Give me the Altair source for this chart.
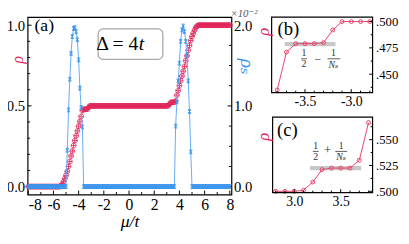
import altair as alt
import numpy as np
import pandas as pd

# ---------------- data ----------------
mu = np.round(np.arange(-8.0, 8.0001, 0.1), 1)          # mu/t grid, step 0.1

rho_low = [0.0] * 25                                      # -8.0 ... -5.6
rho_ramp_left = [0.0, 0.005, 0.015, 0.03, 0.05, 0.07, 0.095, 0.125, 0.155, 0.19,
                 0.22, 0.255, 0.285, 0.315, 0.345, 0.375, 0.405, 0.435, 0.471, 0.479,
                 0.479, 0.479, 0.480, 0.492, 0.500]       # -5.5 ... -3.1
rho_mid = [0.5] * 61                                      # -3.0 ... 3.0
rho_ramp_right = [0.501, 0.509, 0.521, 0.5225, 0.5225, 0.5225, 0.530, 0.5665, 0.595, 0.625,
                  0.655, 0.685, 0.715, 0.745, 0.780, 0.810, 0.845, 0.875, 0.905, 0.930,
                  0.950, 0.970, 0.985, 0.995, 1.0]        # 3.1 ... 5.5
rho_high = [1.0] * 25                                     # 5.6 ... 8.0

rhos_low = [0.0] * 31                                     # -8.0 ... -5.0
rhos_peak_left = [0.45, 0.95, 1.33, 1.65, 1.86, 1.96, 1.97, 1.92, 1.82, 1.57, 1.22, 0.98, 0.74]   # -4.9 ... -3.7
rhos_mid = [0.0] * 73                                     # -3.6 ... 3.6
rhos_peak_right = [0.75, 1.05, 1.31, 1.53, 1.80, 1.94, 1.99, 1.92, 1.80, 1.63, 1.31, 0.93, 0.43]  # 3.7 ... 4.9
rhos_high = [0.0] * 31                                    # 5.0 ... 8.0

b_mu = [-3.8, -3.7, -3.6, -3.5, -3.4, -3.3, -3.2, -3.1, -3.0, -2.9, -2.8]
b_rho = [0.435, 0.471, 0.479, 0.479, 0.479, 0.480, 0.492, 0.500, 0.500, 0.500, 0.500]
c_mu = [2.8, 2.9, 3.0, 3.1, 3.2, 3.3, 3.4, 3.5, 3.6, 3.7, 3.8]
c_rho = [0.500, 0.500, 0.500, 0.501, 0.509, 0.521, 0.5225, 0.5225, 0.5225, 0.530, 0.5665]

b_band = {"x1": [-3.72], "x2": [-3.17], "y1": [0.4765], "y2": [0.4805]}
c_band = {"x1": [3.17], "x2": [3.72], "y1": [0.5205], "y2": [0.5245]}

main_x_major = [-8, -6, -4, -2, 0, 2, 4, 6, 8]
main_x_minor = [-7, -5, -3, -1, 1, 3, 5, 7]
left_major = [0.0, 0.5, 1.0]
left_minor = [0.1, 0.2, 0.3, 0.4, 0.6, 0.7, 0.8, 0.9]
right_major = [0.0, 1.0, 2.0]
right_minor = [0.25, 0.5, 0.75, 1.25, 1.5, 1.75]
b_x_major = [-3.5, -3.0]
b_x_minor = [-3.8, -3.7, -3.6, -3.4, -3.3, -3.2, -3.1, -2.9, -2.8]
c_x_major = [3.0, 3.5]
c_x_minor = [2.8, 2.9, 3.1, 3.2, 3.3, 3.4, 3.6, 3.7, 3.8]
b_y_major = [0.45, 0.475, 0.5]
b_y_minor = [0.4375, 0.4625, 0.4875]
c_y_major = [0.5, 0.525, 0.55]
c_y_minor = [0.5125, 0.5375, 0.5625]

# ---------------- style ----------------
FONT = "Liberation Serif, Tinos, 'Times New Roman', Times, 'DejaVu Serif', serif"
RED = "#E0245A"
RED2 = "#E8436B"
BLUE = "#3A95EE"
BLUE_LINE = "#64ACF3"
W, H = 208, 181
BX0, BX1, BY0, BY1 = 249, 352, 0, 77       # inset (b) frame, plot-relative px
CX0, CX1, CY0, CY1 = 249, 352, 102, 179    # inset (c) frame

CIRCLE_PLUS = "M-1,0A1,1,0,1,1,1,0A1,1,0,1,1,-1,0M-1,0L1,0M0,-1L0,1"
IBEAM = "M-0.8,-1L0.8,-1M-0.8,1L0.8,1M0,-1L0,1M-0.75,-0.75L0.75,0.75M0.75,-0.75L-0.75,0.75"

rho_vals = rho_low + rho_ramp_left + rho_mid + rho_ramp_right + rho_high
rhos_vals = rhos_low + rhos_peak_left + rhos_mid + rhos_peak_right + rhos_high
df = pd.DataFrame({"mu": mu, "rho": rho_vals, "rhos": rhos_vals})
dfb = pd.DataFrame({"mu": b_mu, "rho": b_rho})
dfc = pd.DataFrame({"mu": c_mu, "rho": c_rho})
ONE = pd.DataFrame({"k": [0]})

xs_main = alt.Scale(domain=[-8.05, 8.13], nice=False, zero=False)
yl_main = alt.Scale(domain=[-0.049, 1.050], nice=False, zero=False)
yr_main = alt.Scale(domain=[-0.098, 2.100], nice=False, zero=False)
xs_b = alt.Scale(domain=[-3.86, -2.77], range=[BX0, BX1], nice=False, zero=False)
ys_b = alt.Scale(domain=[0.4325, 0.5042], range=[BY1, BY0], nice=False, zero=False)
xs_c = alt.Scale(domain=[2.757, 3.843], range=[CX0, CX1], nice=False, zero=False)
ys_c = alt.Scale(domain=[0.4988, 0.5718], range=[CY1, CY0], nice=False, zero=False)

MINUS = "replace(format(datum.value, '{f}'), '\u2212', '-')"


def xticks(vals, scale, ybase, length):
    return alt.Chart(pd.DataFrame({"v": vals})).mark_rule(color="black", strokeWidth=1).encode(
        x=alt.X("v:Q", scale=scale, axis=None),
        y=alt.value(ybase), y2=alt.value(ybase - length))


def yticks(vals, scale, xbase, length):
    return alt.Chart(pd.DataFrame({"v": vals})).mark_rule(color="black", strokeWidth=1).encode(
        y=alt.Y("v:Q", scale=scale, axis=None),
        x=alt.value(xbase), x2=alt.value(xbase + length))


def txt(s, x, y, size, color="black", style="normal", angle=0, align="center", baseline="middle"):
    return alt.Chart(ONE).mark_text(text=s, fontSize=size, color=color, fontStyle=style, angle=angle,
                                    align=align, baseline=baseline, font=FONT).encode(
        x=alt.value(x), y=alt.value(y))


def hrule(x0, x1, y, color="#333333"):
    return alt.Chart(ONE).mark_rule(color=color, strokeWidth=0.8).encode(
        x=alt.value(x0), x2=alt.value(x1), y=alt.value(y))


def frame(x0, x1, y0, y1):
    return alt.Chart(ONE).mark_rect(fillOpacity=0, stroke="black", strokeWidth=1.2).encode(
        x=alt.value(x0), x2=alt.value(x1), y=alt.value(y0), y2=alt.value(y1))


# ---------------- main panel (a) ----------------
x_axis_main = alt.Axis(orient="bottom", values=main_x_major, labelExpr=MINUS.format(f="d"),
                       ticks=False, domain=False, grid=False, labelFontSize=16, labelPadding=2,
                       title="\u03bc/t", titleFontStyle="italic", titleFontSize=18,
                       titleX=104, titleY=33, titleBaseline="alphabetic", titleFontWeight="normal")
y_axis_left = alt.Axis(orient="left", values=left_major, format=".1f", ticks=False, domain=False,
                       grid=False, labelFontSize=15, labelPadding=3, title="\u03c1",
                       titleColor=RED, titleFontStyle="italic", titleFontSize=16, titleFontWeight="normal",
                       titleX=-10, titleY=43, titleAngle=270, titleAlign="center", titleBaseline="middle")
y_axis_right = alt.Axis(orient="right", values=right_major, format=".1f", ticks=False, domain=False,
                        grid=False, labelFontSize=15, labelPadding=2, title="\u03c1\u209b",
                        titleColor=BLUE, titleFontStyle="italic", titleFontSize=20, titleFontWeight="normal",
                        titleX=15, titleY=50, titleAngle=90, titleAlign="center", titleBaseline="middle")

red_pts = alt.Chart(df).mark_point(shape=CIRCLE_PLUS, size=24, filled=False, color=RED,
                                   strokeWidth=0.9, opacity=1).encode(
    x=alt.X("mu:Q", scale=xs_main, axis=x_axis_main),
    y=alt.Y("rho:Q", scale=yl_main, axis=y_axis_left))
blue_line = alt.Chart(df).mark_line(color=BLUE_LINE, strokeWidth=1).encode(
    x=alt.X("mu:Q", scale=xs_main, axis=None),
    y=alt.Y("rhos:Q", scale=yr_main, axis=y_axis_right))
blue_pts = alt.Chart(df).mark_point(shape=IBEAM, size=15, filled=False, color=BLUE,
                                    strokeWidth=0.9, opacity=1).encode(
    x=alt.X("mu:Q", scale=xs_main, axis=None),
    y=alt.Y("rhos:Q", scale=yr_main, axis=None))

delta_box = alt.Chart(ONE).mark_rect(cornerRadius=5, fill="white", stroke="#A8A8A8", strokeWidth=1.3).encode(
    x=alt.value(72), x2=alt.value(138), y=alt.value(12), y2=alt.value(43))

main_layers = [
    xticks(main_x_major, xs_main, H, 4), xticks(main_x_minor, xs_main, H, 2.5),
    yticks(left_major, yl_main, 0, 4), yticks(left_minor, yl_main, 0, 2.5),
    yticks(right_major, yr_main, W, -4), yticks(right_minor, yr_main, W, -2.5),
    red_pts, blue_line, blue_pts, delta_box,
    txt("\u0394 = 4", 113, 28, 20, align="right"),
    txt("t", 113.5, 28, 20, style="italic", align="left"),
    txt("(a)", 17, 9, 18),
    txt("\u00d710\u207b\u00b2", 207, 0, 11, color="#555555", style="italic", align="left", baseline="alphabetic"),
]

# ---------------- inset (b) ----------------
b_layers = [
    alt.Chart(pd.DataFrame(b_band)).mark_rect(color="#C8C8C8").encode(
        x=alt.X("x1:Q", scale=xs_b, axis=None), x2="x2:Q",
        y=alt.Y("y1:Q", scale=ys_b, axis=None), y2="y2:Q"),
    alt.Chart(dfb).mark_line(color=RED2, strokeWidth=1).encode(
        x=alt.X("mu:Q", scale=xs_b, axis=alt.Axis(orient="bottom", offset=BY1 - H, values=b_x_major,
                                                  labelExpr=MINUS.format(f=".1f"), ticks=False, domain=False,
                                                  grid=False, labelFontSize=14, labelPadding=2, title=None)),
        y=alt.Y("rho:Q", scale=ys_b, axis=alt.Axis(orient="right", offset=BX1 - W, values=b_y_major,
                                                   labelExpr="substring(format(datum.value, '.3f'), 1)",
                                                   ticks=False, domain=False, grid=False, labelFontSize=13,
                                                   labelPadding=3, title=None))),
    alt.Chart(dfb).mark_point(shape="circle", size=16, filled=False, color=RED2, strokeWidth=1, opacity=1).encode(
        x=alt.X("mu:Q", scale=xs_b, axis=None), y=alt.Y("rho:Q", scale=ys_b, axis=None)),
    xticks(b_x_major, xs_b, BY1, 3.5), xticks(b_x_minor, xs_b, BY1, 2),
    yticks(b_y_major, ys_b, BX1, -3.5), yticks(b_y_minor, ys_b, BX1, -2),
    frame(BX0, BX1, BY0, BY1),
    txt("(b)", BX0 + 17, BY0 + 12, 19),
    txt("\u03c1", BX0 - 8, BY0 + 15, 17, color=RED, style="italic", angle=270),
    txt("1", BX0 + 33, BY0 + 37, 10, color="#333333"), hrule(BX0 + 30, BX0 + 36, BY0 + 42.5),
    txt("2", BX0 + 33, BY0 + 48, 10, color="#333333"),
    txt("\u2212", BX0 + 47, BY0 + 42.5, 12, color="#333333"),
    txt("1", BX0 + 63, BY0 + 37, 10, color="#333333"), hrule(BX0 + 57, BX0 + 70, BY0 + 42.5),
    txt("N\u209b", BX0 + 63, BY0 + 48.5, 10, color="#333333", style="italic"),
]

# ---------------- inset (c) ----------------
c_layers = [
    alt.Chart(pd.DataFrame(c_band)).mark_rect(color="#C8C8C8").encode(
        x=alt.X("x1:Q", scale=xs_c, axis=None), x2="x2:Q",
        y=alt.Y("y1:Q", scale=ys_c, axis=None), y2="y2:Q"),
    alt.Chart(dfc).mark_line(color=RED2, strokeWidth=1).encode(
        x=alt.X("mu:Q", scale=xs_c, axis=alt.Axis(orient="bottom", offset=CY1 - H, values=c_x_major,
                                                  labelExpr=MINUS.format(f=".1f"), ticks=False, domain=False,
                                                  grid=False, labelFontSize=14, labelPadding=2, title=None)),
        y=alt.Y("rho:Q", scale=ys_c, axis=alt.Axis(orient="right", offset=CX1 - W, values=c_y_major,
                                                   labelExpr="substring(format(datum.value, '.3f'), 1)",
                                                   ticks=False, domain=False, grid=False, labelFontSize=13,
                                                   labelPadding=3, title=None))),
    alt.Chart(dfc).mark_point(shape="circle", size=16, filled=False, color=RED2, strokeWidth=1, opacity=1).encode(
        x=alt.X("mu:Q", scale=xs_c, axis=None), y=alt.Y("rho:Q", scale=ys_c, axis=None)),
    xticks(c_x_major, xs_c, CY1, 3.5), xticks(c_x_minor, xs_c, CY1, 2),
    yticks(c_y_major, ys_c, CX1, -3.5), yticks(c_y_minor, ys_c, CX1, -2),
    frame(CX0 + 1, CX1, CY0, CY1),
    txt("(c)", CX0 + 16, CY0 + 13, 19),
    txt("\u03c1", CX0 - 8, CY0 + 20, 17, color=RED, style="italic", angle=270),
    txt("1", CX0 + 45, CY0 + 30, 10, color="#333333"), hrule(CX0 + 42, CX0 + 48, CY0 + 35),
    txt("2", CX0 + 45, CY0 + 40.5, 10, color="#333333"),
    txt("+", CX0 + 57, CY0 + 34, 13, color="#333333"),
    txt("1", CX0 + 71, CY0 + 30, 10, color="#333333"), hrule(CX0 + 65, CX0 + 77, CY0 + 35),
    txt("N\u209b", CX0 + 71, CY0 + 41, 10, color="#333333", style="italic"),
]

chart = alt.layer(*(main_layers + b_layers + c_layers)).resolve_scale(
    x="independent", y="independent"
).properties(
    width=W, height=H,
    autosize=alt.AutoSizeParams(type="none"),
    padding={"left": 20, "top": 7, "right": 173, "bottom": 40},
    background="white",
).configure_view(stroke="black", strokeWidth=1.2).configure_axis(
    labelFont=FONT, titleFont=FONT, labelColor="black"
)

chart.save("out.html", embed_options={"renderer": "svg", "actions": False})
